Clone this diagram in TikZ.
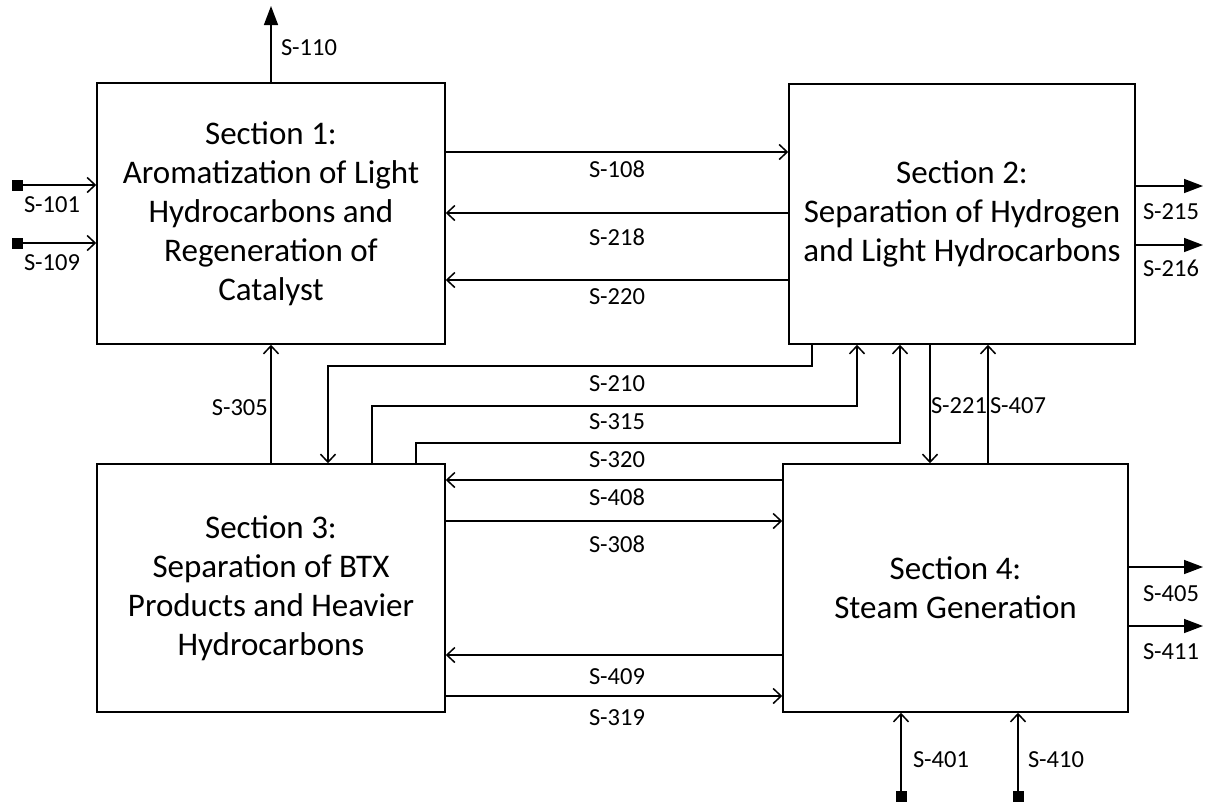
\documentclass[tikz,border=0pt]{standalone}
\usepackage{fontspec}
\setmainfont{Carlito}
\usetikzlibrary{arrows.meta}
\begin{document}
\begin{tikzpicture}[x=1pt,y=-1pt,
  sect/.style={draw,line width=1.5pt,minimum width=#1,inner sep=0pt},
  title/.style={align=center,font=\fontsize{33}{39}\selectfont},
  lab/.style={font=\fontsize{24.5}{28}\selectfont,inner sep=0pt},
  conn/.style={line width=1.5pt,-{Straight Barb[length=8pt,width=15pt,line width=1.5pt]}},
  outp/.style={line width=1.5pt,-{Triangle[length=19pt,width=14pt]}},
  feed/.style={line width=1.5pt,{Square[length=11pt,width=11pt]}-{Straight Barb[length=8pt,width=15pt,line width=1.5pt]}}]
\useasboundingbox (0,0) rectangle (1207,807);
% boxes
\node[sect=348pt,minimum height=261pt] (s1) at (271,213.5) {};
\node[sect=346pt,minimum height=260pt] (s2) at (962,214) {};
\node[sect=348pt,minimum height=248pt] (s3) at (271,588) {};
\node[sect=345pt,minimum height=248pt] (s4) at (955.5,588) {};
\node[title] (t1) at (s1.center) {Section 1:\\Aromatization of Light\\Hydrocarbons and\\Regeneration of\\Catalyst};
\node[title] (t2) at (s2.center) {Section 2:\\Separation of Hydrogen\\and Light Hydrocarbons};
\node[title] (t3) at (s3.center) {Section 3:\\Separation of BTX\\Products and Heavier\\Hydrocarbons};
\node[title] (t4) at (s4.center) {Section 4:\\Steam Generation};
% feeds
\coordinate (f101) at (12,185);
\coordinate (f109) at (12,243);
\draw[feed] (f101) -- (s1.west |- f101);
\draw[feed] (f109) -- (s1.west |- f109);
\node[lab] (l101) at (52,205) {S-101};
\node[lab] (l109) at (52,263) {S-109};
% S-110
\coordinate (o110) at (271,6);
\draw[outp] (s1.north) -- (o110);
\node[lab] (l110) at (309,48) {S-110};
% between 1 and 2
\draw[conn] (s1.east |- 0,152) -- (s2.west |- 0,152);
\node[lab] (l108) at (617,169) {S-108};
\draw[conn] (s2.west |- 0,213) -- (s1.east |- 0,213);
\node[lab] (l218) at (617,237) {S-218};
\draw[conn] (s2.west |- 0,280) -- (s1.east |- 0,280);
\node[lab] (l220) at (617,297) {S-220};
% outputs of 2
\coordinate (o215) at (1203,186);
\coordinate (o216) at (1203,245);
\draw[outp] (s2.east |- o215) -- (o215);
\draw[outp] (s2.east |- o216) -- (o216);
\node[lab] (l215) at (1171,212) {S-215};
\node[lab] (l216) at (1171,268) {S-216};
% S-305
\draw[conn] (s3.north) -- (s1.south);
\node[lab,anchor=east] (l305) at (268,408) {S-305};
% S-210, S-315, S-320
\draw[conn] (s2.south -| 812,0) |- (328,366) -- (s3.north -| 328,0);
\node[lab] (l210) at (617,384) {S-210};
\draw[conn] (s3.north -| 372,0) |- (857,406) -- (s2.south -| 857,0);
\node[lab] (l315) at (617,422) {S-315};
\draw[conn] (s3.north -| 416,0) |- (900,443) -- (s2.south -| 900,0);
\node[lab] (l320) at (617,460) {S-320};
% S-221, S-407
\draw[conn] (s2.south -| 930,0) -- (s4.north -| 930,0);
\node[lab] (l221) at (959,406) {S-221};
\draw[conn] (s4.north -| 988,0) -- (s2.south -| 988,0);
\node[lab] (l407) at (1018,406) {S-407};
% between 3 and 4
\draw[conn] (s4.west |- 0,480) -- (s3.east |- 0,480);
\node[lab] (l408) at (617,497) {S-408};
\draw[conn] (s3.east |- 0,521) -- (s4.west |- 0,521);
\node[lab] (l308) at (617,544) {S-308};
\draw[conn] (s4.west |- 0,655) -- (s3.east |- 0,655);
\node[lab] (l409) at (617,677) {S-409};
\draw[conn] (s3.east |- 0,696) -- (s4.west |- 0,696);
\node[lab] (l319) at (617,718) {S-319};
% outputs of 4
\coordinate (o405) at (1203,567);
\coordinate (o411) at (1203,626);
\draw[outp] (s4.east |- o405) -- (o405);
\draw[outp] (s4.east |- o411) -- (o411);
\node[lab] (l405) at (1171,594) {S-405};
\node[lab] (l411) at (1171,652) {S-411};
% feeds of 4
\coordinate (f401) at (901,802);
\coordinate (f410) at (1018,802);
\draw[feed] (f401) -- (s4.south -| f401);
\draw[feed] (f410) -- (s4.south -| f410);
\node[lab] (l401) at (941,760) {S-401};
\node[lab] (l410) at (1056,760) {S-410};
\end{tikzpicture}
\end{document}
